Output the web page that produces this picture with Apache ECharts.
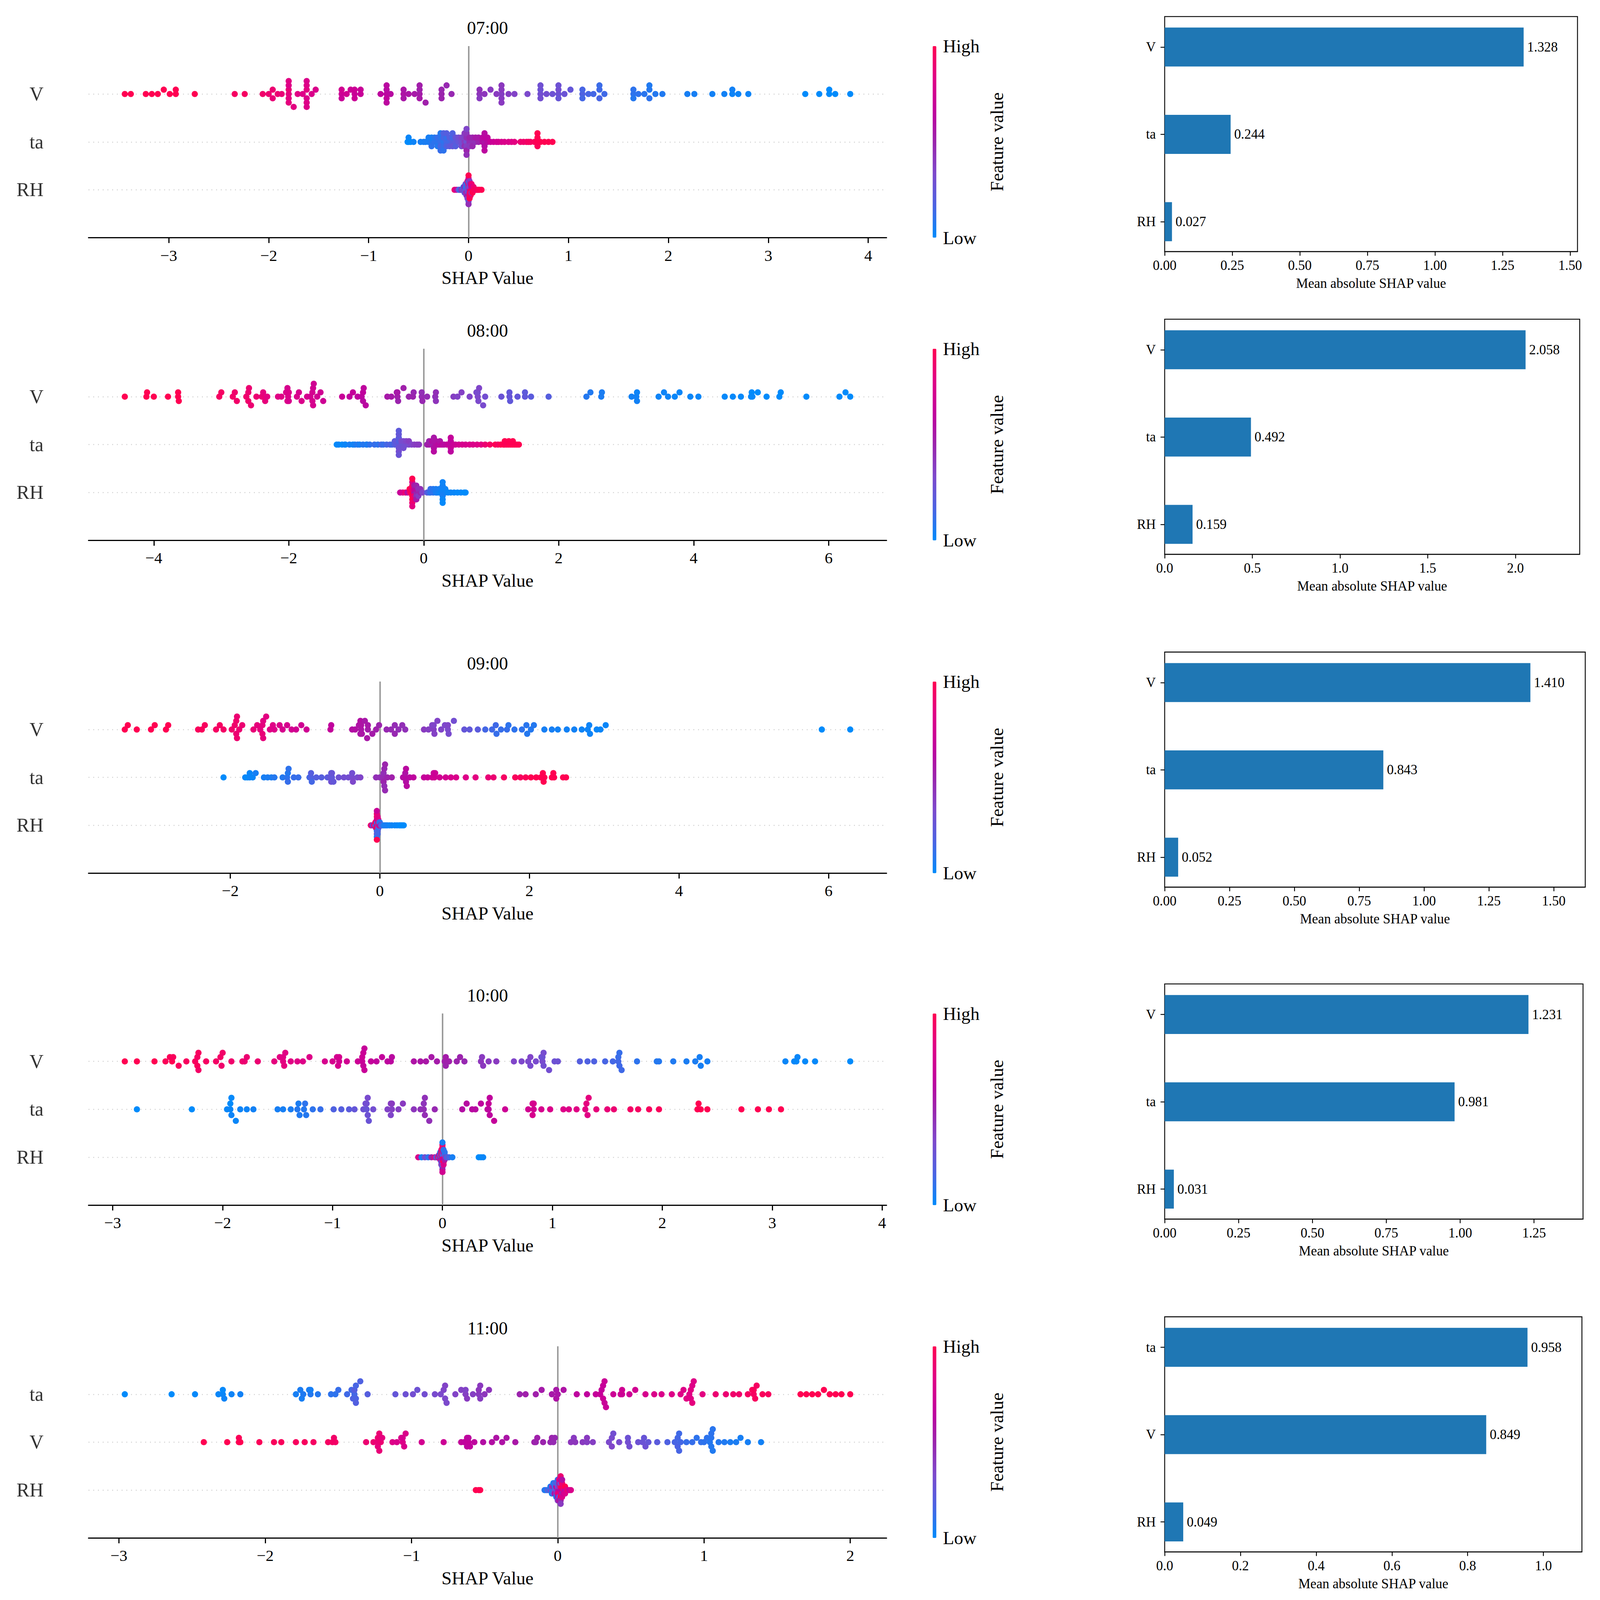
<!DOCTYPE html>
<html><head><meta charset="utf-8">
<script src="https://cdn.jsdelivr.net/npm/echarts@6/dist/echarts.min.js"></script>
<style>html,body{margin:0;padding:0;background:#fff;overflow:hidden}#c{width:100vw;height:100vh}</style>
</head><body><div id="c"></div>
<script>
// ---------------- DATA ----------------
const titles = ['07:00', '08:00', '09:00', '10:00', '11:00'];
// features from top to bottom of each beeswarm panel
const featureOrder = [['V','ta','RH'], ['V','ta','RH'], ['V','ta','RH'], ['V','ta','RH'], ['ta','V','RH']];
const shapTicks = [[-3,-2,-1,0,1,2,3,4], [-4,-2,0,2,4,6], [-2,0,2,4,6], [-3,-2,-1,0,1,2,3,4], [-3,-2,-1,0,1,2]];

// [SHAP value, normalised feature value (0 = low, 1 = high)]
const p1_V = [[-3.44,1],[-3.38,1],[-3.23,1],[-3.17,1],[-3.11,1],[-3.05,1],[-2.99,1],[-2.93,1],[-2.93,1],[-2.74,1],
[-2.34,.95],[-2.24,.95],[-2.06,.92],[-2.0,.9],[-1.96,.9],[-1.96,.88],[-1.91,.9],[-1.87,.88],
[-1.80,.85],[-1.80,.88],[-1.80,.85],[-1.80,.82],[-1.80,.86],[-1.80,.84],[-1.75,.85],[-1.71,.84],[-1.66,.82],[-1.62,.85],[-1.62,.8],[-1.62,.83],[-1.62,.82],[-1.62,.8],[-1.62,.81],[-1.57,.8],[-1.53,.8],
[-1.27,.72],[-1.27,.75],[-1.27,.7],[-1.22,.74],[-1.18,.72],[-1.14,.7],[-1.14,.72],[-1.14,.71],[-1.08,.7],[-1.08,.7],
[-0.88,.65],[-0.82,.64],[-0.82,.62],[-0.82,.66],[-0.82,.63],[-0.82,.64],[-0.78,.62],
[-0.65,.58],[-0.65,.57],[-0.65,.56],[-0.6,.57],[-0.54,.55],[-0.49,.54],[-0.49,.52],[-0.49,.55],[-0.49,.53],[-0.43,.52],
[-0.27,.5],[-0.27,.49],[-0.27,.5],[-0.22,.48],[-0.17,.48],
[0.11,.42],[0.11,.44],[0.11,.4],[0.16,.42],[0.22,.4],[0.28,.4],[0.33,.38],[0.33,.4],[0.33,.39],[0.33,.41],[0.33,.4],[0.4,.38],[0.46,.36],
[0.59,.33],[0.72,.3],[0.72,.28],[0.72,.3],[0.72,.29],[0.78,.3],[0.84,.28],[0.90,.28],[0.90,.3],[0.90,.26],[0.90,.28],[0.96,.27],[1.02,.25],
[1.14,.18],[1.14,.16],[1.14,.15],[1.2,.16],[1.25,.15],[1.31,.14],[1.31,.16],[1.31,.13],[1.36,.14],
[1.65,.1],[1.65,.1],[1.65,.08],[1.7,.1],[1.76,.09],[1.81,.08],[1.81,.1],[1.81,.07],[1.87,.08],[1.94,.07],
[2.19,.05],[2.26,.05],[2.44,.04],[2.56,.04],[2.64,.03],[2.64,.04],[2.70,.03],[2.80,.03],
[3.37,0],[3.51,0],[3.61,0],[3.61,0],[3.67,0],[3.82,0]];
const p1_ta = [[-0.61,0],[-0.6,0],[-0.6,.02],[-0.58,0],[-0.55,.03],[-0.48,.05],[-0.45,.05],[-0.43,.06],[-0.4,.06],[-0.4,.05],
[-0.37,.08],[-0.37,.05],[-0.37,.1],[-0.34,.1],[-0.34,.08],[-0.31,.1],[-0.31,.12],[-0.31,.08],
[-0.28,.12],[-0.28,.1],[-0.28,.15],[-0.28,.08],[-0.28,.12],[-0.25,.1],[-0.25,.15],[-0.25,.12],[-0.25,.18],[-0.25,.1],
[-0.22,.15],[-0.22,.12],[-0.22,.18],[-0.22,.2],[-0.19,.15],[-0.19,.2],[-0.19,.22],
[-0.16,.2],[-0.16,.15],[-0.16,.25],[-0.16,.18],[-0.13,.22],[-0.13,.25],[-0.13,.2],[-0.1,.25],[-0.1,.3],
[-0.07,.3],[-0.07,.35],[-0.07,.3],[-0.04,.4],[-0.04,.35],[-0.04,.45],[-0.04,.4],[-0.02,.3],[-0.02,.45],[-0.02,.38],[-0.02,.42],[-0.02,.5],[-0.02,.35],[-0.02,.45],[0.01,.45],[0.01,.5],[0.01,.4],
[0.04,.45],[0.04,.5],[0.04,.48],[0.07,.45],[0.07,.55],[0.1,.5],[0.1,.55],
[0.14,.6],[0.14,.62],[0.16,.58],[0.16,.65],[0.16,.6],[0.16,.62],[0.16,.64],[0.19,.62],[0.19,.65],
[0.22,.7],[0.25,.72],[0.28,.75],[0.3,.75],[0.33,.78],[0.36,.8],[0.4,.8],[0.43,.82],[0.46,.85],
[0.52,.9],[0.55,.92],[0.58,.92],[0.6,.95],[0.62,.95],[0.66,.97],[0.69,1],[0.69,1],[0.69,.98],[0.69,1],[0.72,1],[0.76,1],[0.8,1],[0.84,1]];
const p1_RH = [[-0.14,.9],[-0.12,.7],[-0.1,.3],[-0.09,.2],[-0.08,.1],[-0.07,.5],[-0.06,.2],[-0.05,.4],[-0.05,.1],
[-0.04,.3],[-0.04,.6],[-0.04,.2],[-0.03,.2],[-0.03,.1],[-0.03,.4],[-0.03,.3],
[-0.02,.3],[-0.02,.1],[-0.02,.5],[-0.02,.2],[-0.02,.4],
[-0.01,.3],[-0.01,.2],[-0.01,.4],[-0.01,.1],[-0.01,.6],[-0.01,.9],[-0.01,.35],
[0,.3],[0,.4],[0,.2],[0,.9],[0,.5],[0,.1],[0,.35],[0,.7],[0,.25],[0,1],[0,.45],
[0.01,.5],[0.01,.3],[0.01,.8],[0.01,.2],[0.01,.95],[0.01,.4],[0.01,1],
[0.02,.9],[0.02,.4],[0.02,1],[0.02,.6],[0.02,.95],
[0.03,1],[0.03,.85],[0.03,.4],[0.03,.9],
[0.04,.95],[0.04,.7],[0.04,1],[0.05,1],[0.05,.9],[0.06,.95],[0.07,1],[0.08,.9],[0.09,1],[0.1,.95],[0.11,1],[0.13,1]];

const p2_V = [[-4.43,1],[-4.11,1],[-4.1,1],[-4.0,1],[-3.79,1],[-3.64,1],[-3.64,1],[-3.63,1],
[-3.03,.95],[-3.0,.95],[-2.83,.93],[-2.8,.92],[-2.77,.93],[-2.63,.92],[-2.6,.9],[-2.6,.92],[-2.59,.9],[-2.56,.9],[-2.48,.9],[-2.4,.88],[-2.38,.86],[-2.35,.87],[-2.32,.85],
[-2.16,.84],[-2.11,.83],[-2.04,.8],[-2.02,.82],[-2.02,.78],[-2.01,.8],[-2.0,.81],[-2.0,.79],[-1.88,.8],[-1.85,.78],[-1.81,.8],
[-1.73,.78],[-1.68,.76],[-1.65,.76],[-1.65,.78],[-1.64,.75],[-1.64,.77],[-1.63,.74],[-1.58,.75],[-1.53,.74],[-1.49,.73],
[-1.21,.7],[-1.10,.66],[-1.05,.68],[-0.98,.65],[-0.92,.64],[-0.9,.66],[-0.9,.62],[-0.89,.65],[-0.86,.63],
[-0.54,.55],[-0.48,.54],[-0.4,.53],[-0.39,.52],[-0.39,.55],[-0.38,.5],[-0.3,.52],[-0.22,.5],[-0.16,.5],[-0.15,.48],[-0.03,.47],[-0.03,.45],[-0.02,.48],[0.05,.46],[0.17,.44],[0.18,.45],[0.18,.43],
[0.44,.38],[0.5,.36],[0.56,.37],[0.68,.35],[0.78,.33],[0.8,.34],[0.8,.32],[0.81,.33],[0.82,.35],[0.88,.32],[0.91,.3],
[1.15,.27],[1.27,.26],[1.27,.25],[1.28,.24],[1.39,.25],[1.5,.24],[1.5,.23],[1.59,.22],[1.85,.2],
[2.41,.08],[2.47,.07],[2.63,.06],[2.64,.06],
[3.08,.04],[3.15,.04],[3.16,.03],[3.16,.04],[3.48,.03],[3.56,.03],[3.62,.03],[3.72,.02],[3.79,.02],[3.95,.02],[4.07,.02],
[4.46,.01],[4.58,.01],[4.7,.01],[4.85,.01],[4.86,0],[4.87,.01],[4.95,0],[5.08,0],[5.27,0],[5.29,0],[5.67,0],[6.16,0],[6.25,0],[6.32,0]];
const p2_ta = [[-1.29,0],[-1.26,.02],[-1.21,0],[-1.17,.03],[-1.16,.02],[-1.1,.05],[-1.05,.03],[-1.02,.05],[-0.98,.08],[-0.95,.05],[-0.9,.08],[-0.85,.1],[-0.84,.06],[-0.8,.1],[-0.73,.12],[-0.68,.1],[-0.63,.15],[-0.6,.12],[-0.55,.15],[-0.5,.18],[-0.47,.15],
[-0.43,.2],[-0.43,.22],[-0.4,.22],[-0.4,.25],[-0.37,.25],[-0.37,.2],[-0.37,.28],[-0.37,.22],[-0.37,.3],[-0.37,.25],[-0.37,.27],[-0.37,.23],[-0.33,.28],[-0.33,.32],[-0.3,.28],[-0.3,.32],[-0.3,.3],[-0.26,.3],[-0.26,.35],[-0.22,.32],[-0.22,.38],[-0.18,.35],[-0.14,.38],[-0.1,.4],[-0.07,.4],
[0.05,.5],[0.08,.55],[0.08,.5],[0.12,.52],[0.12,.6],[0.15,.55],[0.15,.58],[0.15,.6],[0.15,.56],[0.15,.62],[0.18,.6],[0.18,.58],[0.21,.62],[0.24,.62],[0.24,.58],[0.27,.65],[0.3,.62],[0.34,.65],[0.37,.68],[0.4,.62],[0.4,.66],[0.4,.7],[0.4,.68],[0.4,.64],[0.44,.7],[0.47,.72],
[0.52,.75],[0.57,.78],[0.62,.78],[0.68,.8],[0.73,.8],[0.79,.82],[0.85,.85],
[0.91,.9],[0.98,.95],[1.06,1],[1.1,.95],[1.14,1],[1.18,1],[1.2,1],[1.2,1],[1.23,.98],[1.26,1],[1.26,1],[1.29,1],[1.32,1],[1.32,1],[1.35,1],[1.38,1],[1.41,1]];
const p2_RH = [[-0.35,.7],[-0.31,.8],[-0.27,.9],[-0.24,.6],[-0.21,.85],[-0.21,1],[-0.19,1],[-0.17,1],[-0.17,.9],[-0.17,1],[-0.17,.95],[-0.17,1],[-0.17,.8],[-0.17,.9],[-0.17,1],[-0.17,.85],[-0.14,.6],[-0.14,.7],[-0.14,.9],[-0.14,.55],[-0.11,.5],[-0.11,.6],[-0.11,.45],[-0.11,.5],[-0.11,.55],[-0.08,.5],[-0.08,.45],[-0.08,.4],[-0.05,.5],[-0.05,.45],[-0.02,.35],
[0.05,.2],[0.08,.15],[0.1,.1],[0.1,.12],[0.14,.1],[0.14,.08],[0.18,.05],[0.18,.06],[0.2,.05],[0.23,.03],[0.23,.05],[0.26,.02],[0.28,.04],[0.28,.03],[0.28,.05],[0.28,.04],[0.28,.02],[0.28,.03],[0.28,.01],[0.32,.04],[0.32,.03],[0.36,.02],[0.4,.02],[0.45,.02],[0.5,.01],[0.55,.01],[0.6,0],[0.62,0]];

const p3_V = [[-3.41,1],[-3.37,1],[-3.25,1],[-3.06,1],[-3.01,1],[-2.86,1],[-2.83,1],
[-2.43,.97],[-2.38,.97],[-2.34,.96],[-2.19,.95],[-2.14,.95],[-2.09,.94],
[-1.98,.92],[-1.94,.92],[-1.92,.9],[-1.92,.92],[-1.91,.91],[-1.91,.9],[-1.88,.9],[-1.84,.9],
[-1.69,.88],[-1.64,.87],[-1.6,.86],[-1.57,.86],[-1.57,.88],[-1.56,.85],[-1.56,.87],[-1.52,.85],[-1.47,.84],[-1.43,.83],[-1.41,.82],
[-1.34,.8],[-1.3,.78],[-1.24,.78],[-1.18,.76],[-1.12,.75],[-1.05,.74],[-0.98,.74],
[-0.66,.68],[-0.65,.66],
[-0.37,.6],[-0.33,.6],[-0.28,.58],[-0.26,.57],[-0.26,.6],[-0.25,.56],[-0.25,.58],[-0.24,.57],[-0.2,.55],[-0.17,.56],[-0.16,.54],[-0.16,.55],[-0.1,.54],[-0.05,.52],[-0.01,.5],
[0.09,.48],[0.15,.47],[0.2,.46],[0.2,.48],[0.25,.45],[0.3,.45],[0.34,.44],
[0.59,.4],[0.65,.38],[0.7,.36],[0.72,.38],[0.72,.35],[0.73,.37],[0.77,.36],[0.82,.35],[0.87,.34],[0.91,.33],[0.91,.35],[0.92,.32],[0.99,.3],
[1.13,.25],[1.2,.24],[1.31,.22],
[1.41,.15],[1.5,.14],[1.55,.14],[1.56,.12],[1.62,.12],[1.7,.12],[1.72,.1],[1.8,.1],[1.9,.1],[1.96,.09],[1.97,.08],[2.02,.08],[2.06,.08],
[2.2,.05],[2.3,.05],[2.38,.04],[2.5,.04],[2.6,.04],[2.7,.03],[2.78,.03],[2.8,.03],[2.81,.03],[2.9,.02],[2.95,.02],[3.02,.02],
[5.91,0],[6.29,0]];
const p3_ta = [[-2.09,0],[-1.8,.02],[-1.77,0],[-1.74,.03],[-1.74,.02],[-1.7,.02],[-1.66,.05],[-1.55,.05],[-1.5,.06],[-1.45,.06],[-1.41,.08],[-1.3,.08],[-1.24,.1],[-1.23,.08],[-1.23,.12],[-1.22,.1],[-1.15,.12],[-1.09,.12],
[-0.94,.15],[-0.92,.18],[-0.92,.2],[-0.91,.15],[-0.85,.2],[-0.78,.2],[-0.7,.22],[-0.66,.25],[-0.65,.22],[-0.65,.28],[-0.64,.24],[-0.64,.26],[-0.62,.25],
[-0.55,.28],[-0.48,.3],[-0.42,.3],[-0.37,.32],[-0.37,.3],[-0.36,.34],[-0.3,.32],[-0.26,.35],
[-0.05,.45],[0,.45],[0.04,.47],[0.05,.45],[0.05,.5],[0.06,.48],[0.06,.46],[0.07,.5],[0.07,.47],[0.1,.5],[0.16,.52],
[0.31,.6],[0.34,.62],[0.34,.58],[0.35,.6],[0.35,.63],[0.36,.62],[0.4,.62],[0.45,.65],
[0.59,.68],[0.64,.7],[0.7,.72],[0.72,.7],[0.73,.74],[0.74,.72],[0.8,.74],[0.88,.76],
[0.95,.78],[1.02,.8],[1.15,.82],[1.28,.85],[1.45,.88],[1.52,.9],
[1.66,.95],[1.81,.97],[1.88,.96],[1.95,.98],[2.02,1],[2.09,1],[2.15,1],[2.18,1],[2.19,1],[2.2,1],[2.3,1],[2.32,1],[2.33,1],[2.45,1],[2.49,1]];
const p3_RH = [[-0.12,.9],[-0.1,.5],[-0.09,.2],[-0.08,.7],[-0.07,1],[-0.06,.3],[-0.06,.9],[-0.05,.1],[-0.05,1],[-0.05,.6],
[-0.04,.5],[-0.04,.2],[-0.04,1],[-0.04,.8],[-0.04,.1],[-0.04,.95],[-0.04,.3],[-0.04,.9],[-0.04,.05],[-0.04,.7],[-0.04,1],
[-0.03,.9],[-0.03,.1],[-0.03,1],[-0.03,.6],[-0.03,.2],[-0.03,.85],[-0.03,.15],
[-0.02,.4],[-0.02,1],[-0.02,.15],[-0.02,.8],[-0.01,.9],[-0.01,.3],[0,.6],[0,.1],[0.01,.5],[0.02,.2],[0.04,.1],[0.06,.05],[0.08,.05],[0.1,.05],[0.13,.03],[0.16,.03],[0.2,.02],[0.23,.02],[0.26,.01],[0.28,0],[0.3,0],[0.32,0]];

const p4_V = [[-2.89,1],[-2.78,1],[-2.62,1],[-2.52,.98],[-2.48,.98],[-2.46,1],[-2.45,.97],[-2.4,.97],[-2.33,.96],[-2.25,.96],[-2.23,.95],[-2.23,.97],[-2.22,.96],[-2.22,.94],[-2.15,.95],[-2.06,.94],[-2.02,.94],[-2.01,.92],[-2.0,.93],[-1.92,.92],[-1.82,.91],[-1.8,.9],[-1.78,.9],[-1.68,.9],
[-1.53,.86],[-1.48,.85],[-1.45,.85],[-1.45,.84],[-1.44,.86],[-1.43,.84],[-1.38,.84],[-1.32,.83],[-1.27,.82],[-1.21,.82],
[-1.07,.78],[-1.0,.77],[-0.96,.76],[-0.95,.78],[-0.94,.75],[-0.94,.77],[-0.87,.75],
[-0.77,.72],[-0.73,.7],[-0.73,.72],[-0.72,.68],[-0.72,.71],[-0.71,.7],[-0.71,.69],[-0.65,.68],[-0.6,.66],[-0.55,.67],[-0.5,.65],[-0.47,.64],[-0.46,.63],
[-0.26,.58],[-0.2,.57],[-0.15,.56],[-0.1,.55],[-0.05,.54],[0.02,.52],[0.03,.54],[0.03,.5],[0.06,.52],[0.13,.5],[0.16,.5],[0.2,.48],
[0.35,.42],[0.36,.4],[0.37,.41],[0.42,.4],[0.49,.4],
[0.65,.35],[0.72,.34],[0.78,.33],[0.8,.35],[0.8,.32],[0.85,.32],[0.9,.3],[0.91,.32],[0.91,.28],[0.92,.3],[0.92,.31],[0.97,.3],[1.02,.28],[1.05,.28],
[1.25,.2],[1.32,.18],[1.38,.18],[1.48,.16],[1.55,.15],[1.6,.15],[1.6,.13],[1.61,.14],[1.61,.12],[1.63,.14],
[1.77,.1],[1.95,.08],[1.97,.08],[2.1,.07],[2.22,.06],[2.3,.06],[2.34,.05],[2.35,.05],[2.41,.05],
[3.12,.02],[3.2,.02],[3.22,.01],[3.23,.02],[3.3,.01],[3.39,.01],[3.71,0]];
const p4_ta = [[-2.78,0],[-2.28,0],[-1.96,.02],[-1.93,.02],[-1.93,0],[-1.92,.03],[-1.92,.01],[-1.88,.02],[-1.84,.03],[-1.78,.03],[-1.72,.04],
[-1.5,.05],[-1.45,.05],[-1.38,.06],[-1.32,.08],[-1.31,.06],[-1.3,.07],[-1.26,.08],[-1.25,.1],[-1.24,.08],[-1.18,.1],[-1.11,.12],
[-0.99,.18],[-0.92,.2],[-0.85,.22],[-0.8,.25],[-0.72,.28],[-0.7,.3],[-0.69,.26],[-0.69,.3],[-0.68,.28],[-0.68,.32],[-0.67,.27],[-0.63,.3],
[-0.5,.36],[-0.47,.38],[-0.47,.35],[-0.46,.37],[-0.46,.4],[-0.4,.38],[-0.36,.4],
[-0.26,.42],[-0.2,.44],[-0.17,.45],[-0.17,.43],[-0.16,.46],[-0.16,.44],[-0.12,.45],[-0.07,.48],
[0.18,.6],[0.22,.62],[0.27,.63],[0.3,.62],[0.35,.65],[0.41,.66],[0.42,.64],[0.42,.68],[0.43,.65],[0.43,.66],[0.47,.68],
[0.57,.72],[0.78,.75],[0.82,.76],[0.82,.78],[0.83,.75],[0.83,.77],[0.9,.78],[0.98,.8],
[1.1,.82],[1.15,.82],[1.22,.84],[1.3,.85],[1.31,.86],[1.32,.84],[1.33,.86],[1.4,.87],[1.5,.88],[1.56,.9],
[1.71,.94],[1.78,.95],[1.88,.96],[1.97,.97],
[2.32,1],[2.33,1],[2.35,1],[2.41,1],[2.72,1],[2.87,1],[2.97,1],[3.08,1]];
const p4_RH = [[-0.22,.8],[-0.19,.05],[-0.16,.3],[-0.13,.1],[-0.1,.5],[-0.07,.85],[-0.06,.4],[-0.05,.2],[-0.04,.9],[-0.03,.1],[-0.03,.6],
[-0.02,.95],[-0.02,.3],[-0.02,.7],[-0.02,.1],
[-0.01,.2],[-0.01,.9],[-0.01,.5],[-0.01,1],[-0.01,.15],[-0.01,.8],[-0.01,.4],
[0,.6],[0,.1],[0,.85],[0,.4],[0,.7],[0,.95],[0,.3],[0,1],[0,.2],[0,.9],[0,.55],[0,.05],[0,.75],
[0.01,.9],[0.01,.3],[0.01,.6],[0.01,.5],[0.01,1],[0.01,.1],[0.01,.8],
[0.02,.8],[0.02,.2],[0.02,.55],[0.02,.1],[0.03,.4],[0.04,.1],[0.05,.3],[0.06,.15],[0.09,.05],[0.33,0],[0.35,0],[0.37,.02]];

const p5_ta = [[-2.96,0],[-2.64,0],[-2.48,.01],[-2.32,.02],[-2.29,.02],[-2.29,.01],[-2.28,.03],[-2.23,.03],[-2.17,.04],
[-1.79,.05],[-1.76,.06],[-1.75,.05],[-1.74,.07],[-1.7,.06],[-1.69,.08],[-1.69,.05],[-1.64,.08],[-1.55,.1],[-1.52,.1],[-1.5,.12],
[-1.44,.14],[-1.41,.15],[-1.4,.18],[-1.39,.15],[-1.39,.2],[-1.38,.17],[-1.38,.16],[-1.38,.19],[-1.35,.18],[-1.3,.2],
[-1.11,.25],[-1.04,.28],[-0.99,.3],[-0.96,.28],[-0.91,.3],
[-0.84,.32],[-0.8,.33],[-0.78,.35],[-0.77,.34],[-0.77,.36],[-0.76,.33],[-0.7,.36],[-0.66,.37],[-0.63,.38],[-0.63,.36],[-0.62,.4],[-0.58,.38],[-0.54,.4],[-0.54,.42],[-0.53,.39],[-0.53,.41],[-0.5,.42],[-0.47,.43],
[-0.26,.5],[-0.22,.52],[-0.15,.52],[-0.11,.54],[-0.04,.55],[-0.01,.55],[-0.01,.58],[0,.56],[0.04,.58],
[0.13,.65],[0.2,.66],[0.26,.68],[0.29,.7],[0.3,.68],[0.31,.72],[0.31,.69],[0.32,.7],[0.32,.71],[0.33,.7],[0.38,.72],[0.43,.73],[0.44,.72],[0.44,.74],[0.49,.73],[0.53,.75],
[0.6,.78],[0.66,.8],[0.71,.8],
[0.78,.82],[0.84,.83],[0.86,.82],[0.88,.84],[0.9,.83],[0.91,.85],[0.91,.84],[0.92,.82],[0.92,.86],[0.93,.83],[0.99,.85],
[1.08,.9],[1.15,.9],[1.2,.92],[1.24,.92],
[1.3,.95],[1.33,.96],[1.34,.95],[1.34,.97],[1.35,.96],[1.36,.95],[1.4,.97],[1.44,.96],
[1.66,1],[1.7,1],[1.74,1],[1.78,1],[1.82,1],[1.86,1],[1.9,1],[1.94,1],[2.0,1]];
const p5_V = [[-2.42,1],[-2.26,1],[-2.18,1],[-2.18,.98],[-2.17,1],[-2.04,.98],[-1.94,.97],[-1.89,.97],[-1.79,.96],[-1.73,.96],[-1.67,.95],[-1.57,.95],[-1.54,.94],[-1.53,.93],[-1.52,.94],
[-1.31,.9],[-1.26,.9],[-1.23,.88],[-1.23,.9],[-1.23,.87],[-1.22,.89],[-1.22,.88],[-1.21,.9],[-1.2,.86],
[-1.13,.82],[-1.1,.8],[-1.07,.8],[-1.06,.82],[-1.06,.78],[-1.05,.8],[-1.04,.8],[-0.93,.76],[-0.78,.72],
[-0.66,.68],[-0.64,.66],[-0.62,.67],[-0.62,.65],[-0.61,.68],[-0.61,.64],[-0.6,.66],[-0.57,.65],
[-0.51,.6],[-0.45,.6],[-0.42,.58],[-0.38,.58],[-0.35,.57],[-0.29,.56],
[-0.16,.52],[-0.15,.5],[-0.14,.52],[-0.1,.5],[-0.05,.48],[-0.04,.5],[-0.03,.47],[-0.02,.48],
[0.09,.42],[0.11,.4],[0.12,.42],[0.17,.4],[0.2,.38],[0.2,.4],[0.24,.38],
[0.35,.33],[0.37,.32],[0.37,.35],[0.38,.3],[0.42,.32],[0.48,.3],[0.48,.28],[0.49,.3],[0.55,.28],[0.58,.27],[0.59,.26],[0.6,.28],[0.62,.25],
[0.68,.22],[0.75,.18],[0.8,.16],[0.82,.15],[0.82,.17],[0.83,.14],[0.83,.16],[0.84,.15],
[0.88,.12],[0.92,.12],[0.95,.1],[0.98,.11],[1.0,.1],[1.02,.1],[1.04,.08],[1.05,.09],[1.05,.08],[1.05,.1],[1.06,.07],[1.06,.09],[1.1,.08],[1.14,.07],[1.18,.06],[1.22,.06],[1.25,.05],[1.3,.05],[1.39,.04]];
const p5_RH = [[-0.56,1],[-0.54,1],[-0.53,1],
[-0.09,.1],[-0.08,.05],[-0.07,.2],[-0.06,.1],[-0.05,.3],[-0.05,.05],[-0.04,.15],[-0.04,.4],[-0.04,.05],[-0.03,.1],[-0.03,.5],[-0.03,.2],[-0.03,.05],
[-0.02,.3],[-0.02,.1],[-0.02,.6],[-0.02,.15],[-0.01,.2],[-0.01,.7],[-0.01,.4],[-0.01,.15],[-0.01,.05],
[0,.5],[0,.3],[0,.8],[0,.2],[0,.6],[0,.1],[0,.4],
[0.01,.7],[0.01,.4],[0.01,.9],[0.01,.5],[0.01,.2],[0.01,.85],[0.01,.6],
[0.02,.6],[0.02,.95],[0.02,.8],[0.02,.3],[0.02,1],[0.02,.7],[0.02,.5],[0.02,.9],[0.02,.4],
[0.03,.7],[0.03,1],[0.03,.5],[0.03,.9],[0.03,.8],[0.03,.6],
[0.04,.85],[0.04,.9],[0.04,.7],[0.05,.6],[0.05,1],[0.05,.8],[0.06,.8],[0.07,.9],[0.08,.7],[0.09,.8]];

const swarmRows = [[p1_V,p1_ta,p1_RH],[p2_V,p2_ta,p2_RH],[p3_V,p3_ta,p3_RH],[p4_V,p4_ta,p4_RH],[p5_ta,p5_V,p5_RH]];

// mean |SHAP| bar charts (top to bottom)
const barFeatures = [['V','ta','RH'],['V','ta','RH'],['V','ta','RH'],['V','ta','RH'],['ta','V','RH']];
const barValues = [[1.328,0.244,0.027],[2.058,0.492,0.159],[1.410,0.843,0.052],[1.231,0.981,0.031],[0.958,0.849,0.049]];
const barTicks = [[0,0.25,0.5,0.75,1,1.25,1.5],[0,0.5,1,1.5,2],[0,0.25,0.5,0.75,1,1.25,1.5],[0,0.25,0.5,0.75,1,1.25],[0,0.2,0.4,0.6,0.8,1]];
const barTickDecimals = [2,1,2,2,1];

// ---------------- STYLE / LAYOUT (reference pixels, scaled to the window) ----------------
const FONT = "'Liberation Serif','Times New Roman',serif";
const CMAP = ['#008bfb','#4b63e3','#7d49cc','#9b24ad','#c2009c','#e00086','#ff0052'];
const REF_W = 4337, REF_H = 5418;
const W = window.innerWidth || REF_W, H = window.innerHeight || REF_H;
const sx = W / REF_W, sy = H / REF_H, s = Math.min(sx, sy);
const X = v => v * sx, Y = v => v * sy, F = v => v * s;

const ROW_OFF = [0, 1025, 2152, 3276, 4403];
const SW = {left: 240, width: 2163, top: 156, height: 649};
const BAR = {left: 3157, top: 56, height: 796, catTop: 11.5, catHeight: 887};
const BAR_W = [1119, 1125, 1140, 1134, 1131];
const CB = {left: 2528, width: 10};

// SHAP-style beeswarm layering (nbins = 100, row_height = 0.4)
function swarmOffsets(pts) {
  const xs = pts.map(p => p[0]);
  const mn = Math.min(...xs), mx = Math.max(...xs);
  const q = xs.map(x => Math.round(100 * (x - mn) / (mx - mn + 1e-8)));
  const idx = xs.map((_, i) => i).sort((a, b) => q[a] - q[b] || a - b);
  const ys = new Array(xs.length);
  let layer = 0, last = null;
  idx.forEach(i => {
    if (q[i] !== last) layer = 0;
    ys[i] = Math.ceil(layer / 2) * ((layer % 2) * 2 - 1);
    layer++; last = q[i];
  });
  const m = Math.max(...ys.map(y => y + 1));
  return ys.map(y => y * 0.9 * 0.4 / m);
}
const fmtShap = v => (v < 0 ? '\u2212' + (-v) : String(v));

const grid = [], xAxis = [], yAxis = [], series = [], visualMap = [], graphic = [];

titles.forEach((title, r) => {
  const off = ROW_OFF[r];
  const names = featureOrder[r];
  // ---- beeswarm ----
  const g0 = grid.length;
  grid.push({left: X(SW.left), top: Y(SW.top + off), width: X(SW.width), height: Y(SW.height), containLabel: false});
  const allX = [].concat(...swarmRows[r].map(a => a.map(p => p[0])));
  const xmin = Math.min(...allX), xmax = Math.max(...allX), pad = 0.05 * (xmax - xmin);
  xAxis.push({
    gridIndex: g0, type: 'value', min: xmin - pad, max: xmax + pad,
    axisLine: {show: true, onZero: false, lineStyle: {color: '#000', width: F(4)}},
    axisTick: {show: true, length: F(18), lineStyle: {color: '#000', width: F(4)}, customValues: shapTicks[r]},
    axisLabel: {customValues: shapTicks[r], formatter: fmtShap, fontSize: F(54), color: '#000', margin: F(33), fontFamily: FONT},
    splitLine: {show: false},
    name: 'SHAP Value', nameLocation: 'middle', nameGap: F(105),
    nameTextStyle: {fontSize: F(62), color: '#000', fontFamily: FONT}
  });
  yAxis.push({
    gridIndex: g0, type: 'value', min: -1, max: 3,
    axisLine: {show: false, onZero: false}, axisTick: {show: false}, splitLine: {show: false},
    axisLabel: {customValues: [0, 1, 2], formatter: v => names[2 - v], fontSize: F(66), color: '#333', margin: X(122), fontFamily: FONT}
  });
  const pts = [];
  swarmRows[r].forEach((rowPts, k) => {
    const offs = swarmOffsets(rowPts);
    rowPts.forEach((p, i) => pts.push([p[0], (2 - k) + offs[i], p[1]]));
  });
  const sIdx = series.length;
  const dotted = {color: '#cccccc', width: F(3), type: [F(3), F(13)]};
  series.push({
    type: 'scatter', xAxisIndex: g0, yAxisIndex: g0, data: pts, symbolSize: F(21), z: 3,
    itemStyle: {opacity: 1}, silent: true,
    markLine: {
      silent: true, symbol: 'none', z: 1, label: {show: false}, animation: false,
      data: [
        {yAxis: 0, lineStyle: dotted}, {yAxis: 1, lineStyle: dotted}, {yAxis: 2, lineStyle: dotted},
        {xAxis: 0, lineStyle: {color: '#999999', width: F(5), type: 'solid'}}
      ]
    }
  });
  visualMap.push({
    type: 'continuous', seriesIndex: sIdx, dimension: 2, min: 0, max: 1,
    inRange: {color: CMAP}, orient: 'vertical', left: X(CB.left), top: Y(SW.top + off),
    itemWidth: X(CB.width), itemHeight: Y(SW.height), calculable: false, padding: 0,
    hoverLink: false, show: true
  });
  graphic.push(
    {type: 'text', x: X(2556), y: Y(SW.top + off), style: {text: 'High', fontSize: F(62), fontFamily: FONT, fill: '#000', verticalAlign: 'middle'}},
    {type: 'text', x: X(2556), y: Y(SW.top + SW.height + off), style: {text: 'Low', fontSize: F(62), fontFamily: FONT, fill: '#000', verticalAlign: 'middle'}},
    {type: 'text', x: X(2702), y: Y(SW.top + SW.height / 2 + off), rotation: Math.PI / 2,
     style: {text: 'Feature value', fontSize: F(62), fontFamily: FONT, fill: '#000', align: 'center', verticalAlign: 'middle'}},
    {type: 'text', x: X(SW.left + SW.width / 2), y: Y(95 + off),
     style: {text: title, fontSize: F(61), fontFamily: FONT, fill: '#000', align: 'center', verticalAlign: 'middle'}}
  );

  // ---- bar chart (mean |SHAP|) ----
  const bmax = Math.max(...barValues[r]) * 1.15;
  const bw = BAR_W[r];
  const g1 = grid.length;
  grid.push({left: X(BAR.left), top: Y(BAR.catTop + off), width: X(bw), height: Y(BAR.catHeight), containLabel: false});
  xAxis.push({gridIndex: g1, type: 'value', min: 0, max: bmax, show: false});
  yAxis.push({
    gridIndex: g1, type: 'category', data: barFeatures[r], inverse: true,
    axisLine: {show: false, onZero: false},
    axisTick: {show: true, alignWithLabel: true, length: F(14), lineStyle: {color: '#000', width: F(3)}},
    axisLabel: {fontSize: F(46), color: '#000', margin: F(30), fontFamily: FONT}
  });
  series.push({
    type: 'bar', xAxisIndex: g1, yAxisIndex: g1, data: barValues[r], barWidth: Y(132), silent: true,
    itemStyle: {color: '#1f77b4'},
    label: {show: true, position: 'right', distance: F(12), formatter: p => p.value.toFixed(3),
            fontSize: F(46), color: '#000', fontFamily: FONT}
  });
  const g2 = grid.length;
  grid.push({left: X(BAR.left), top: Y(BAR.top + off), width: X(bw), height: Y(BAR.height), containLabel: false,
             show: true, borderColor: '#000', borderWidth: F(3), backgroundColor: 'transparent'});
  const dec = barTickDecimals[r];
  xAxis.push({
    gridIndex: g2, type: 'value', min: 0, max: bmax,
    axisLine: {show: true, onZero: false, lineStyle: {color: '#000', width: F(3)}},
    axisTick: {show: true, length: F(14), lineStyle: {color: '#000', width: F(3)}, customValues: barTicks[r]},
    axisLabel: {customValues: barTicks[r], formatter: v => v.toFixed(dec), fontSize: F(46), color: '#000', margin: F(24), fontFamily: FONT},
    splitLine: {show: false},
    name: 'Mean absolute SHAP value', nameLocation: 'middle', nameGap: F(85),
    nameTextStyle: {fontSize: F(46), color: '#000', fontFamily: FONT}
  });
  yAxis.push({gridIndex: g2, type: 'value', min: 0, max: 1, show: false});
});

const el = document.getElementById('c');
el.style.width = W + 'px'; el.style.height = H + 'px';
const chart = echarts.init(el, null, {renderer: 'svg', width: W, height: H});
chart.setOption({
  backgroundColor: '#fff', animation: false,
  textStyle: {fontFamily: FONT},
  grid, xAxis, yAxis, series, visualMap, graphic
});
</script></body></html>
